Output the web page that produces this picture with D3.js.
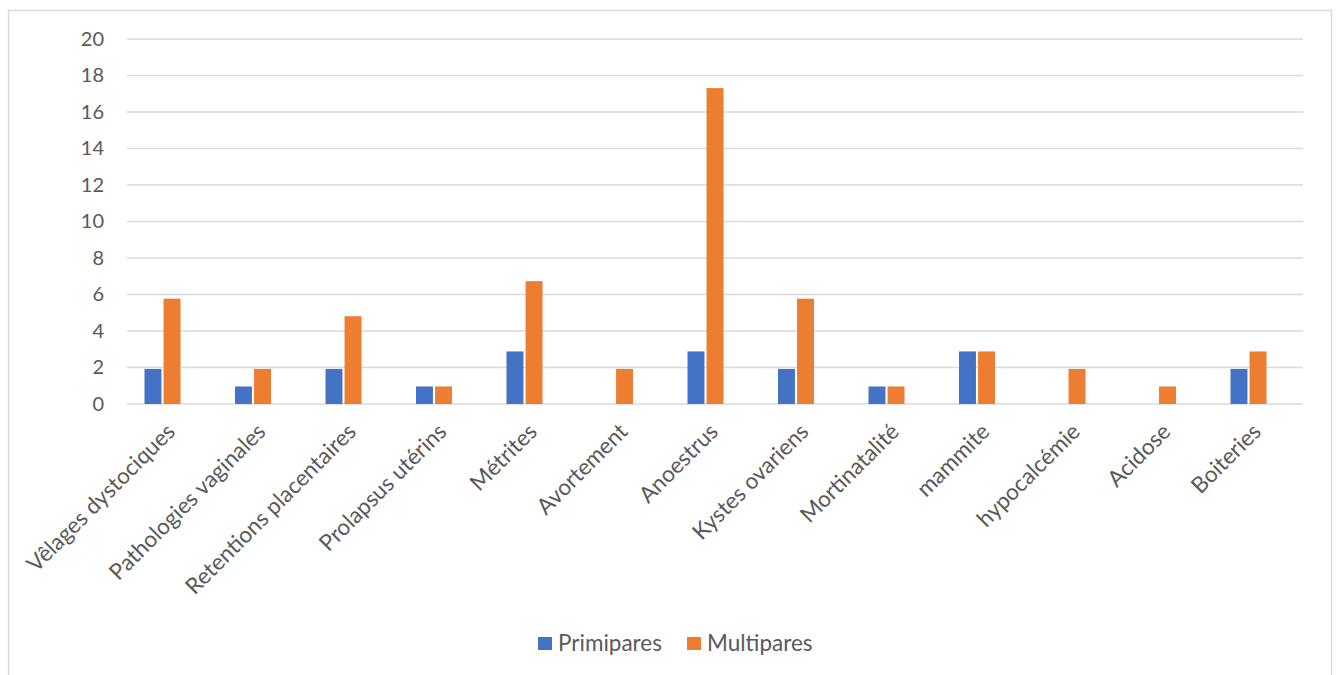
<!DOCTYPE html>
<html>
<head>
<meta charset="utf-8">
<script src="https://cdn.jsdelivr.net/npm/d3@7"></script>
<style>
html,body{margin:0;padding:0;background:#fff;}
svg{display:block;}
text{font-family:Lato,"Open Sans",sans-serif;fill:#595959;}
</style>
</head>
<body>
<svg id="chart" width="1336" height="675"></svg>
<script>
const categories = ["Vêlages dystociques","Pathologies vaginales","Retentions placentaires","Prolapsus utérins","Métrites","Avortement","Anoestrus","Kystes ovariens","Mortinatalité","mammite","hypocalcémie","Acidose","Boiteries"];
const primipares = [1.92,0.96,1.92,0.96,2.88,0,2.88,1.92,0.96,2.88,0,0,1.92];
const multipares = [5.77,1.92,4.81,0.96,6.73,1.92,17.31,5.77,0.96,2.88,1.92,0.96,2.88];
const seriesNames = ["Primipares","Multipares"];
const seriesColors = ["#4472C4","#ED7D31"];
const yTicks = [0,2,4,6,8,10,12,14,16,18,20];

const svg = d3.select("#chart");

// outer frame
svg.append("rect").attr("x",8.5).attr("y",10.5).attr("width",1323).attr("height",700)
  .attr("fill","none").attr("stroke","#d9d9d9").attr("stroke-width",1.5);

const y = d3.scaleLinear().domain([0,20]).range([404,39]);
const gridX0 = 127, gridX1 = 1303;
const x = d3.scaleBand().domain(categories).range([117.25,1293.75]).padding(0);
const xs = d3.scaleBand().domain(seriesNames).range([-18,18]).paddingInner(0.11);

// gridlines
svg.append("g").selectAll("line").data(yTicks).join("line")
  .attr("x1",gridX0).attr("x2",gridX1)
  .attr("y1",d=>y(d)).attr("y2",d=>y(d))
  .attr("stroke","#d9d9d9").attr("stroke-width",1.5);

// y axis labels
const yAxis = d3.axisLeft(y).tickValues(yTicks).tickSize(0).tickPadding(0);
const gy = svg.append("g").attr("transform","translate(104,0)").call(yAxis);
gy.select(".domain").remove();
gy.selectAll("text").style("font-family","Lato, sans-serif").style("font-size","20px").attr("fill","#595959");

// bars
const data = categories.map((c,i)=>({cat:c, vals:[primipares[i],multipares[i]]}));
const groups = svg.append("g").selectAll("g").data(data).join("g")
  .attr("transform",d=>`translate(${x(d.cat)+x.bandwidth()/2},0)`);
groups.selectAll("rect").data(d=>d.vals.map((v,j)=>({v,s:seriesNames[j],j}))).join("rect")
  .attr("x",d=>xs(d.s)).attr("width",xs.bandwidth())
  .attr("y",d=>y(d.v)).attr("height",d=>y(0)-y(d.v))
  .attr("fill",d=>seriesColors[d.j]);

// category labels
svg.append("g").selectAll("text").data(categories).join("text")
  .attr("transform",d=>`translate(${x(d)+x.bandwidth()/2+14},433) rotate(-45)`)
  .attr("text-anchor","end")
  .style("font-size","22.5px")
  .text(d=>d);

// legend
const legendX = [538,687];
const lg = svg.append("g").selectAll("g").data(seriesNames).join("g")
  .attr("transform",(d,i)=>`translate(${legendX[i]},637)`);
lg.append("rect").attr("width",14).attr("height",13).attr("fill",(d,i)=>seriesColors[i]);
lg.append("text").attr("x",20).attr("y",13.5).style("font-size","22.5px").text(d=>d);
</script>
</body>
</html>
